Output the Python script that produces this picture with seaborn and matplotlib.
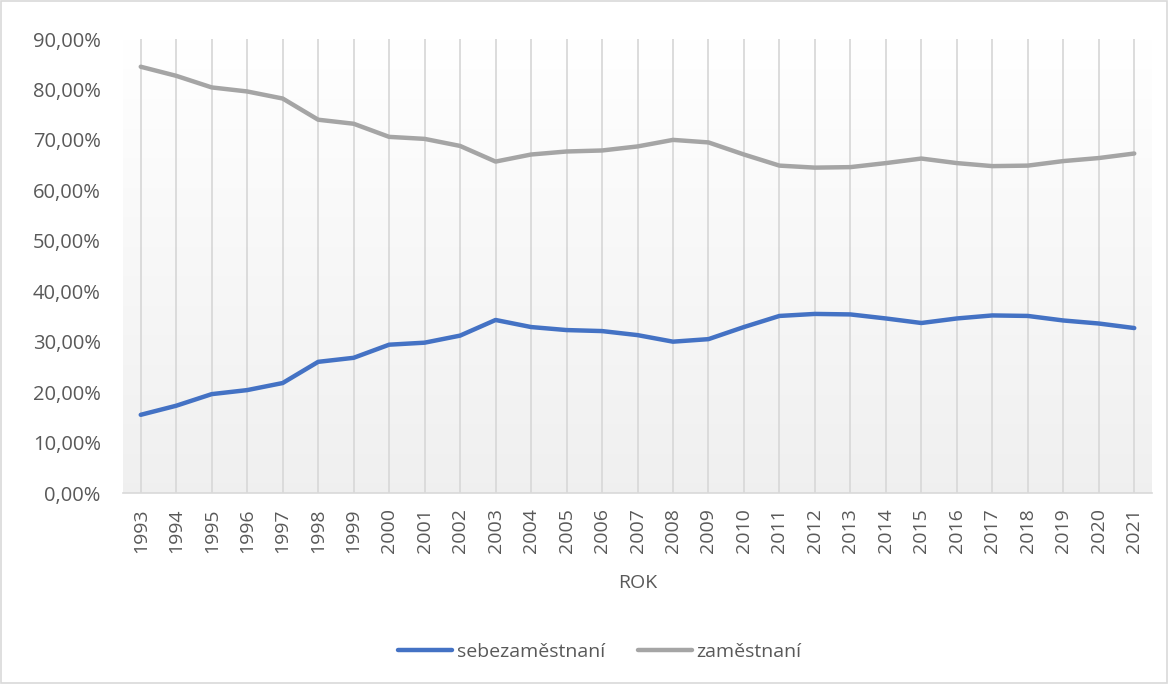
import numpy as np
import pandas as pd
import matplotlib.pyplot as plt
import matplotlib.ticker as mticker
import seaborn as sns

roky = list(range(1993, 2022))
sebezamestnani = [15.5, 17.3, 19.6, 20.4, 21.8, 26.0, 26.8, 29.4, 29.8, 31.2,
                  34.3, 32.9, 32.3, 32.1, 31.3, 30.0, 30.5, 32.9, 35.1, 35.5,
                  35.4, 34.6, 33.7, 34.6, 35.2, 35.1, 34.2, 33.6, 32.7]
zamestnani = [84.5, 82.7, 80.4, 79.6, 78.2, 74.0, 73.2, 70.6, 70.2, 68.8,
              65.7, 67.1, 67.7, 67.9, 68.7, 70.0, 69.5, 67.1, 64.9, 64.5,
              64.6, 65.4, 66.3, 65.4, 64.8, 64.9, 65.8, 66.4, 67.3]

df = pd.DataFrame({
    'ROK': [str(r) for r in roky] * 2,
    'hodnota': sebezamestnani + zamestnani,
    'skupina': ['sebezaměstnaní'] * len(roky) + ['zaměstnaní'] * len(roky),
})

sns.set_style('white')
plt.rcParams['font.family'] = ['Open Sans', 'DejaVu Sans']
txt = '#595959'
fs = 14

fig = plt.figure(figsize=(11.68, 6.84), dpi=100)
ax = fig.add_axes([123 / 1168, 1 - 493 / 684, (1152 - 123) / 1168, (493 - 39) / 684])

# gradient pozadi
grad = np.linspace(1.0, 0.94, 256).reshape(-1, 1)
ax.imshow(np.dstack([grad, grad, grad]), aspect='auto', extent=[-0.5, len(roky) - 0.5, 0, 90],
          zorder=0, origin='upper')

sns.lineplot(data=df, x='ROK', y='hodnota', hue='skupina', sort=False,
             palette=['#4472C4', '#A5A5A5'], linewidth=3.2, ax=ax, zorder=3)

ax.set_xlim(-0.5, len(roky) - 0.5)
ax.set_ylim(0, 90)
ax.set_yticks(range(0, 91, 10))
ax.yaxis.set_major_formatter(mticker.FuncFormatter(lambda v, p: f'{v:.2f}'.replace('.', ',') + '%'))
ax.set_xticks(range(len(roky)))
ax.set_xticklabels([str(r) for r in roky], rotation=90)
ax.tick_params(axis='both', length=0, labelsize=fs, colors=txt)
ax.tick_params(axis='y', pad=16, labelsize=14.5)
ax.tick_params(axis='x', pad=11)
ax.xaxis.grid(True, color='#d9d9d9', linewidth=1.3, zorder=1)
ax.yaxis.grid(False)
ax.set_axisbelow(True)
for s in ['top', 'right', 'left']:
    ax.spines[s].set_visible(False)
ax.spines['bottom'].set_color('#d9d9d9')
ax.spines['bottom'].set_linewidth(1.2)
ax.set_xlabel('ROK', fontsize=fs, color=txt, labelpad=15)
ax.set_ylabel('')

leg = ax.legend(loc='center', bbox_to_anchor=(600 / 1168, 1 - 652 / 684), bbox_transform=fig.transFigure,
                ncol=2, frameon=False, fontsize=fs, handlelength=2.75, columnspacing=1.7, handletextpad=0.25)
for t in leg.get_texts():
    t.set_color(txt)
for l in leg.get_lines():
    l.set_linewidth(3.2)

fig.patches.append(plt.Rectangle((0.001, 0.001), 0.998, 0.998, transform=fig.transFigure,
                                 fill=False, edgecolor='#d9d9d9', linewidth=1.2))

fig.savefig('out.png', dpi=100, facecolor='white')
